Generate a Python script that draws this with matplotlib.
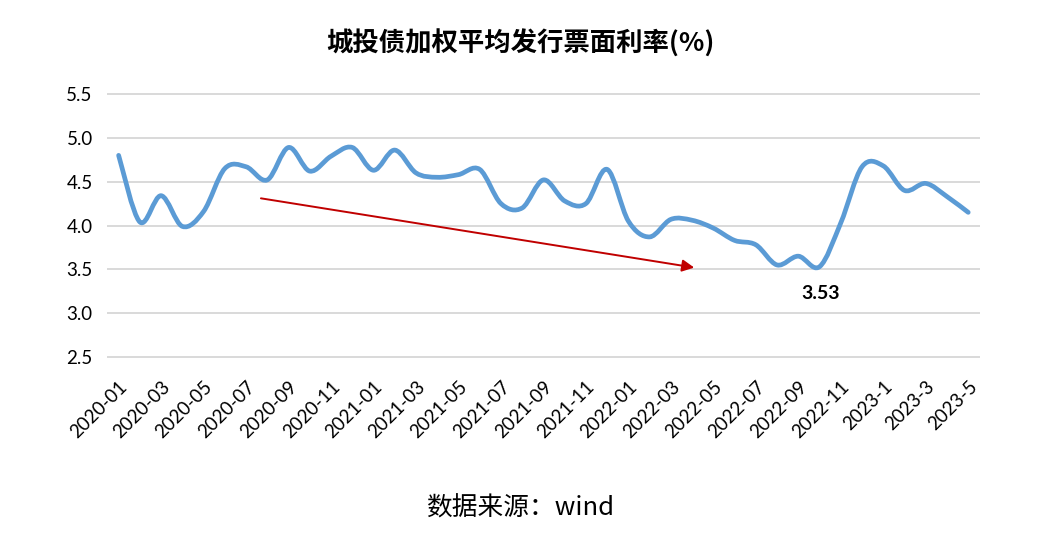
"""Weighted average coupon rate of LGFV bonds, monthly."""

import matplotlib
matplotlib.use("Agg")
import matplotlib.pyplot as plt
from matplotlib.path import Path
from matplotlib.patches import PathPatch

months = [
    "2020-01", "2020-02", "2020-03", "2020-04", "2020-05", "2020-06", "2020-07",
    "2020-08", "2020-09", "2020-10", "2020-11", "2020-12", "2021-01", "2021-02",
    "2021-03", "2021-04", "2021-05", "2021-06", "2021-07", "2021-08", "2021-09",
    "2021-10", "2021-11", "2021-12", "2022-01", "2022-02", "2022-03", "2022-04",
    "2022-05", "2022-06", "2022-07", "2022-08", "2022-09", "2022-10", "2022-11",
    "2022-12", "2023-1", "2023-2", "2023-3", "2023-4", "2023-5",
]
rates = [
    4.80, 4.04, 4.34, 3.99, 4.16, 4.65, 4.67, 4.52, 4.89, 4.62, 4.79,
    4.89, 4.63, 4.86, 4.60, 4.55, 4.58, 4.64, 4.25, 4.20, 4.52, 4.28,
    4.25, 4.64, 4.05, 3.87, 4.07, 4.06, 3.97, 3.83, 3.78, 3.55, 3.65,
    3.53, 4.03, 4.67, 4.68, 4.40, 4.48, 4.33, 4.15,
]
y_ticks = [2.5, 3.0, 3.5, 4.0, 4.5, 5.0, 5.5]
min_label = "3.53"
min_index = 33
trend_start = (6.7, 4.31)
trend_end = (27.1, 3.52)

TITLE = "城投债加权平均发行票面利率(%)"
SOURCE = "数据来源：wind"

LINE_COLOR = "#5B9BD5"
ARROW_COLOR = "#C00000"
GRID_COLOR = "#D9D9D9"
CJK = ["Noto Sans CJK SC", "DejaVu Sans"]


def smooth_path(xs, ys):
    """Bezier path through the points, like a spreadsheet's smoothed line."""
    verts = [(xs[0], ys[0])]
    codes = [Path.MOVETO]
    n = len(xs)
    for i in range(n - 1):
        x0, y0 = (xs[i - 1], ys[i - 1]) if i > 0 else (xs[i], ys[i])
        x1, y1 = xs[i], ys[i]
        x2, y2 = xs[i + 1], ys[i + 1]
        x3, y3 = (xs[i + 2], ys[i + 2]) if i + 2 < n else (x2, y2)
        c1 = (x1 + (x2 - x0) / 6, y1 + (y2 - y0) / 6)
        c2 = (x2 - (x3 - x1) / 6, y2 - (y3 - y1) / 6)
        verts += [c1, c2, (x2, y2)]
        codes += [Path.CURVE4] * 3
    return Path(verts, codes)


def plot_rates(output_path="out.png"):
    fig = plt.figure(figsize=(10.62, 5.47), dpi=100)
    ax = fig.add_axes([0.1017, 0.3473, 0.82, 0.4809])

    xs = list(range(len(months)))
    ax.add_patch(PathPatch(smooth_path(xs, rates), fill=False,
                           edgecolor=LINE_COLOR, lw=3.4, capstyle="round",
                           joinstyle="round", zorder=3))
    ax.plot(xs, rates, alpha=0)

    ax.annotate("", xy=trend_end, xytext=trend_start,
                arrowprops=dict(arrowstyle="-|>", color=ARROW_COLOR, lw=1.4,
                                mutation_scale=18, shrinkA=0, shrinkB=0),
                zorder=4)
    ax.annotate(min_label, xy=(min_index, rates[min_index]), xytext=(1, -19),
                textcoords="offset points", ha="center", va="center",
                fontsize=14, fontweight="bold", family="Lato")

    ax.set_xlim(-0.5, len(months) - 0.5)
    ax.set_ylim(2.5, 5.5)
    ax.set_yticks(y_ticks)
    ax.set_yticklabels([f"{v:.1f}" for v in y_ticks], family="Lato", fontsize=13.5)
    ax.set_xticks(xs[::2])
    ax.set_xticklabels(months[::2], family="Lato", fontsize=13.5, rotation=45,
                       ha="right", va="top", rotation_mode="anchor")
    ax.tick_params(axis="both", length=0)
    ax.tick_params(axis="y", pad=11)
    ax.tick_params(axis="x", pad=15)
    ax.grid(axis="y", color=GRID_COLOR, lw=1.4)
    for line in ax.get_ygridlines():
        line.set_clip_on(False)
    ax.set_axisbelow(True)
    for spine in ax.spines.values():
        spine.set_visible(False)

    fig.text(0.49, 0.921, TITLE, ha="center", va="center", fontsize=19,
             family=CJK, fontweight="bold")
    fig.text(0.49, 0.071, SOURCE, ha="center", va="center", fontsize=18.5,
             family=CJK, fontweight="medium")

    fig.savefig(output_path, dpi=100)
    plt.close(fig)


if __name__ == "__main__":
    plot_rates()
